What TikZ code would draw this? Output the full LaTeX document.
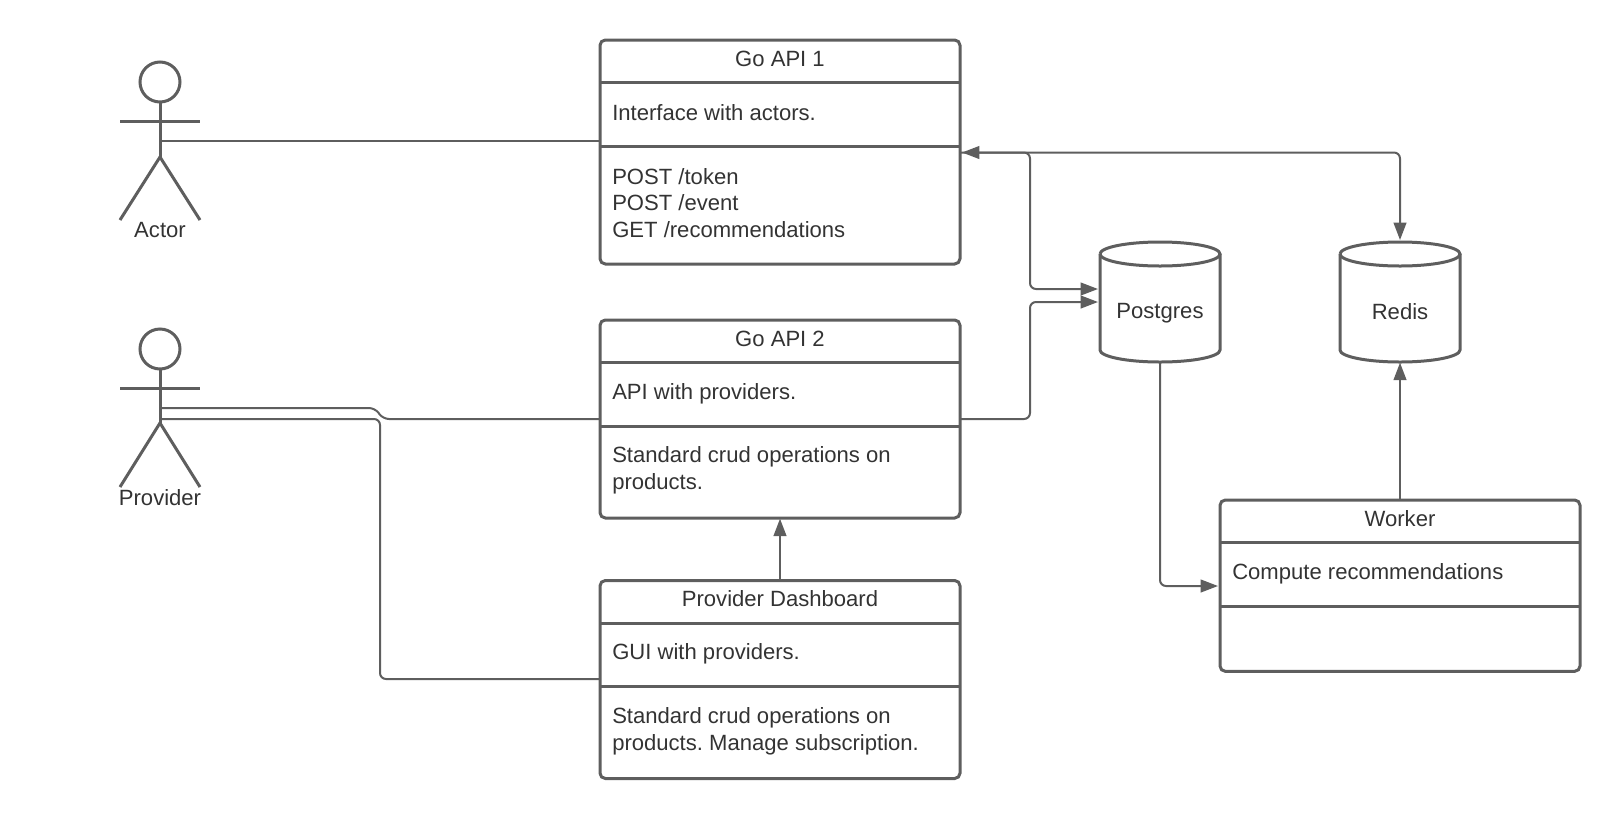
\documentclass[tikz,border=0pt]{standalone}
\usepackage{fontspec}
\setmainfont{Liberation Sans}
\usetikzlibrary{shapes.geometric, positioning, arrows.meta, calc}
\definecolor{lineColor}{HTML}{5E5E5E}
\definecolor{textColor}{HTML}{333333}
\frenchspacing

\begin{document}
\begin{tikzpicture}[
    x=0.75pt, y=-0.75pt,
    box/.style={
        draw=lineColor, line width=2.25pt, rounded corners=4pt,
        minimum width=270pt, outer sep=0pt, anchor=north west,
    },
    divider/.style={
        draw=lineColor, line width=2.25pt,
    },
    stick/.style={
        draw=lineColor, line width=2.25pt,
    },
    store/.style={
        minimum width=90pt, minimum height=90pt, outer sep=0pt, inner sep=0pt,
    },
    title/.style={
        text=textColor, font=\fontsize{16.55}{20}\selectfont, inner sep=0pt,
    },
    body/.style={
        text=textColor, font=\fontsize{16.55}{20}\selectfont, inner sep=0pt,
        anchor=west, align=left,
    },
    link/.style={
        draw=lineColor, line width=1.5pt, rounded corners=4.5pt,
    },
    flow/.style={
        link, shorten >=1.5pt, -{Triangle[length=13pt, width=9.5pt]},
    },
]
\useasboundingbox (0,0) rectangle (1620,818);

%--- Actor ---
\node[stick, circle, minimum size=30pt, inner sep=0pt, outer sep=0pt] (actorHead) at (160,82) {};
\coordinate (actorHip) at (160,157);
\coordinate (actorPort) at (160,141);
\draw[stick] (actorHead.south) -- (actorHip);
\draw[stick] (120,121.5) -- (200,121.5);
\draw[stick] (120,220) -- (actorHip) -- (200,220);
\node[title] (actorLabel) at (160,230.5) {Actor};

%--- Provider ---
\node[stick, circle, minimum size=30pt, inner sep=0pt, outer sep=0pt] (provHead) at (160,349) {};
\coordinate (provHip) at (160,423);
\coordinate (provPortA) at (160,408);
\coordinate (provPortB) at (160,419);
\draw[stick] (provHead.south) -- (provHip);
\draw[stick] (120,388.5) -- (200,388.5);
\draw[stick] (120,487) -- (provHip) -- (200,487);
\node[title] (provLabel) at (160,498) {Provider};

%--- Go API 1 ---
\node[box, minimum height=168pt] (api1) at (600,40) {};
\draw[divider] (600,82.5) -- (960,82.5);
\draw[divider] (600,146.5) -- (960,146.5);
\node[title] (api1Title) at (780,59) {Go API 1};
\node[body] (api1Role) at (612,112.5) {Interface with actors.};
\node[body] (api1Ops) at (612,203) {POST /token\\POST /event\\GET /recommendations};

%--- Go API 2 ---
\node[box, minimum height=148.5pt] (api2) at (600,320) {};
\draw[divider] (600,362.5) -- (960,362.5);
\draw[divider] (600,426.5) -- (960,426.5);
\node[title] (api2Title) at (780,339) {Go API 2};
\node[body] (api2Role) at (612,393.5) {API with providers.};
\node[body] (api2Ops) at (612,470) {Standard crud operations on\\products.};

%--- Provider Dashboard ---
\node[box, minimum height=148.5pt] (dash) at (600,580.5) {};
\draw[divider] (600,623.5) -- (960,623.5);
\draw[divider] (600,686.5) -- (960,686.5);
\node[title] (dashTitle) at (780,599) {Provider Dashboard};
\node[body] (dashRole) at (612,654) {GUI with providers.};
\node[body] (dashOps) at (612,731.5) {Standard crud operations on\\products. Manage subscription.};

%--- Worker ---
\node[box, minimum height=128.5pt] (worker) at (1220,500) {};
\draw[divider] (1220,542.5) -- (1580,542.5);
\draw[divider] (1220,606.5) -- (1580,606.5);
\node[title] (workerTitle) at (1400,519) {Worker};
\node[body] (workerRole) at (1232,574) {Compute recommendations};

%--- Stores ---
\node[store] (postgres) at (1160,302) {};
\node[title] (postgresLabel) at (1160,313.5) {Postgres};
\node[store] (redis) at (1400,302) {};
\node[title] (redisLabel) at (1400,311.5) {Redis};
\foreach \db in {postgres, redis} {
    \draw[stick] ($(\db.north west)+(0,12)$) arc[start angle=180, end angle=-180, x radius=45pt, y radius=9pt];
    \draw[stick] ($(\db.north west)+(0,12)$) -- ($(\db.south west)+(0,-12)$)
        arc[start angle=180, end angle=360, x radius=45pt, y radius=9pt] -- ($(\db.north east)+(0,12)$);
}

%--- Connecting lines ---
\draw[link] (actorPort) -- (actorPort -| api1.west);
\draw[link] (provPortA) -- (375,408) -- (383,419) -- (provPortB -| api2.west);
\draw[link] (provPortB) -- (380,419) -- (380,679) -- (dash.west |- 0,679);

%--- Arrows to the stores ---
\draw[flow, {Triangle[length=13pt, width=9.5pt]}-{Triangle[length=13pt, width=9.5pt]}, shorten <=1.5pt]
    (api1.east |- 0,152.5) -- (redis.north |- 0,152.5) -- (redis.north);
\draw[flow] (api1.east |- 0,152.5) -- (1030,152.5) -- (1030,289) -- (postgres.west |- 0,289);
\draw[flow] (api2.east |- 0,419) -- (1030,419) -- (1030,302) -- (postgres.west |- 0,302);
\draw[flow] (postgres.south) -- (1160,586) -- (worker.west |- 0,586);
\draw[flow, shorten >=0.5pt] (worker.north -| redis.south) -- (redis.south);
\draw[flow, shorten >=0.5pt] (dash.north) -- (api2.south);

\end{tikzpicture}
\end{document}
